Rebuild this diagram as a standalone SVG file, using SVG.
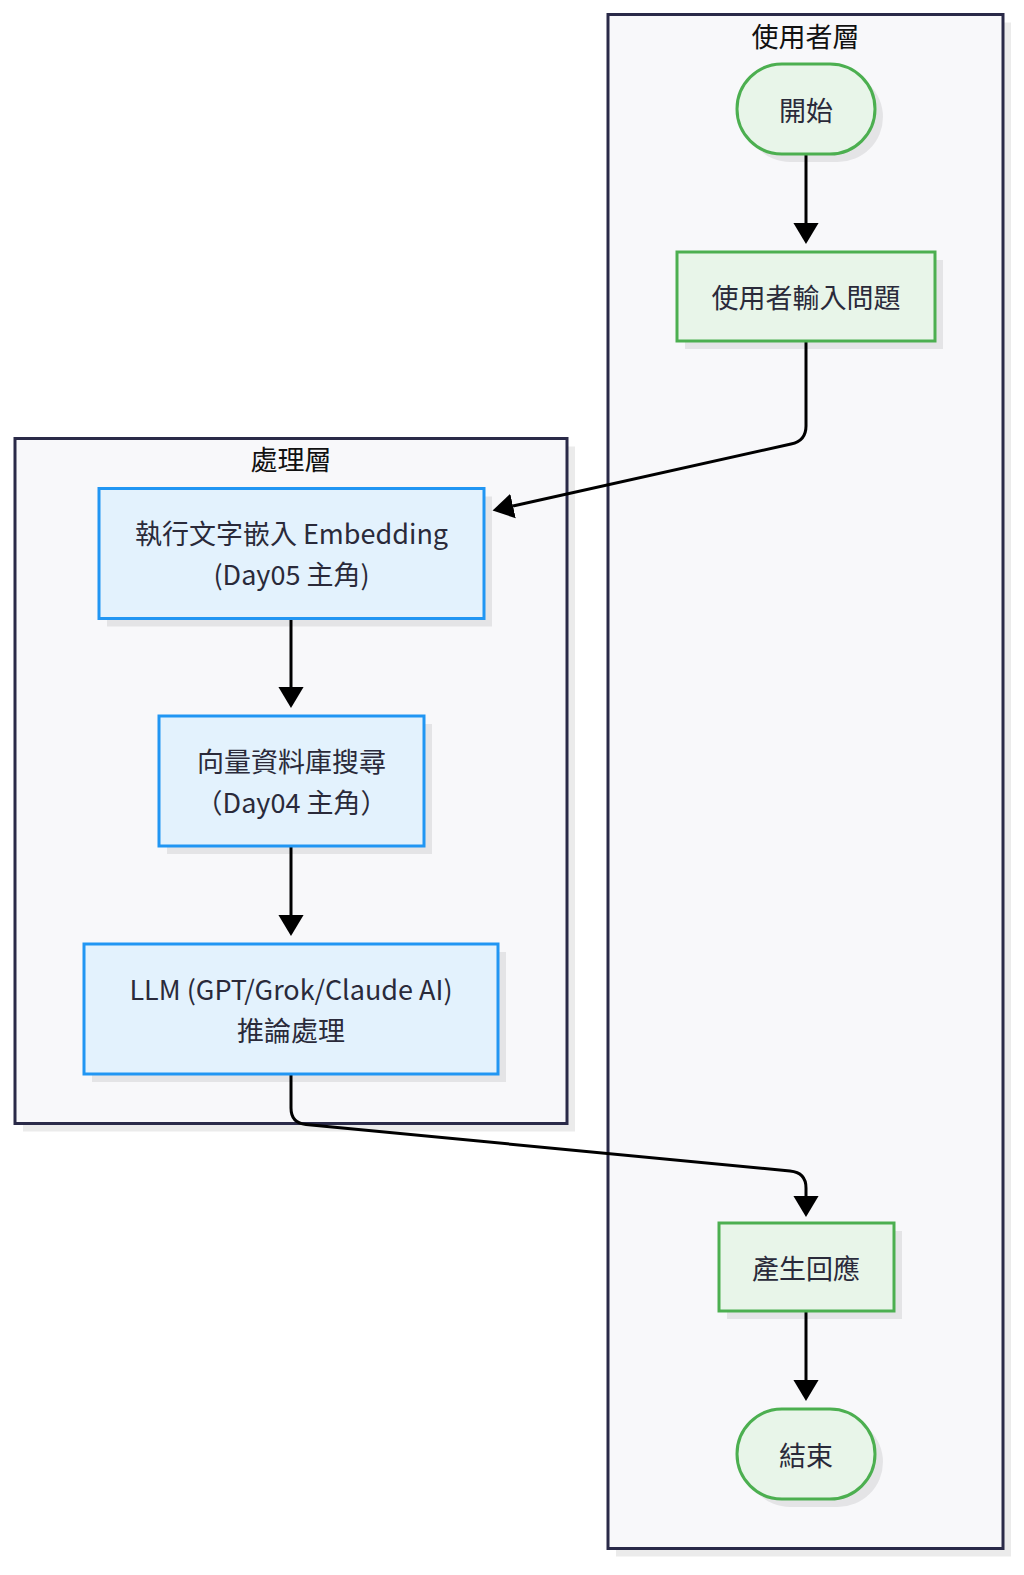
<svg xmlns="http://www.w3.org/2000/svg" width="1024" height="1575" viewBox="0 0 1024 1575">
<style>
  .cl { fill: #f8f8fa; stroke: #2a2a48; stroke-width: 3; }
  .sh { fill: #000; opacity: 0.08; }
  .g { fill: #e8f5e9; stroke: #4caf50; stroke-width: 3; }
  .b { fill: #e3f2fd; stroke: #2196f3; stroke-width: 3; }
  .t { font-family: "Noto Sans CJK TC", "Noto Sans", sans-serif; font-size: 27px; fill: #2a2a3a; text-anchor: middle; dominant-baseline: central; }
  .ct { font-family: "Noto Sans CJK TC", "Noto Sans", sans-serif; font-size: 27px; fill: #111; text-anchor: middle; dominant-baseline: central; }
  .e { fill: none; stroke: #000; stroke-width: 3; }
</style>
<defs>
  <marker id="arr" markerUnits="userSpaceOnUse" markerWidth="22" markerHeight="26" refX="0" refY="12" orient="auto" viewBox="0 0 21 24">
    <path d="M0,0 L20,12 L0,24 z" fill="#000"/>
  </marker>
</defs>
<rect width="1024" height="1575" fill="#ffffff"/>

<g id="cluster-user">
  <rect class="sh" x="616" y="22.5" width="395" height="1534"/>
  <rect class="cl" x="608" y="14.5" width="395" height="1534"/>
  <text class="ct" x="805.5" y="35">使用者層</text>
</g>
<g id="cluster-proc">
  <rect class="sh" x="23" y="446.5" width="552" height="685"/>
  <rect class="cl" x="15" y="438.5" width="552" height="685"/>
  <text class="ct" x="291" y="458">處理層</text>
</g>

<g id="connectors">
  <path class="e" d="M806,155 L806,223" marker-end="url(#arr)"/>
  <path class="e" d="M806,341 L806,426 Q806,441 791,444 L513,506" marker-end="url(#arr)"/>
  <path class="e" d="M291,618.5 L291,687" marker-end="url(#arr)"/>
  <path class="e" d="M291,846 L291,915" marker-end="url(#arr)"/>
  <path class="e" d="M291,1074 L291,1108 Q291,1123 306,1124.5 L790,1171 Q806,1172.5 806,1188 L806,1196" marker-end="url(#arr)"/>
  <path class="e" d="M806,1311 L806,1380" marker-end="url(#arr)"/>
</g>

<g id="node-start">
  <rect class="sh" x="745" y="72" width="138" height="90" rx="45"/>
  <rect class="g" x="737" y="64" width="138" height="90" rx="45"/>
  <text class="t" x="806" y="109">開始</text>
</g>
<g id="node-input">
  <rect class="sh" x="685" y="260" width="258" height="89"/>
  <rect class="g" x="677" y="252" width="258" height="89"/>
  <text class="t" x="806" y="296.5">使用者輸入問題</text>
</g>
<g id="node-embed">
  <rect class="sh" x="107" y="496.5" width="385" height="130"/>
  <rect class="b" x="99" y="488.5" width="385" height="130"/>
  <text class="t" x="291.5" y="532">執行文字嵌入 Embedding</text>
  <text class="t" x="291.5" y="573">(Day05 主角)</text>
</g>
<g id="node-vector">
  <rect class="sh" x="167" y="724" width="265" height="130"/>
  <rect class="b" x="159" y="716" width="265" height="130"/>
  <text class="t" x="291.5" y="760">向量資料庫搜尋</text>
  <text class="t" x="291.5" y="801">（Day04 主角）</text>
</g>
<g id="node-llm">
  <rect class="sh" x="92" y="952" width="414" height="130"/>
  <rect class="b" x="84" y="944" width="414" height="130"/>
  <text class="t" x="291" y="988">LLM (GPT/Grok/Claude AI)</text>
  <text class="t" x="291" y="1029">推論處理</text>
</g>
<g id="node-resp">
  <rect class="sh" x="727" y="1231" width="175" height="88"/>
  <rect class="g" x="719" y="1223" width="175" height="88"/>
  <text class="t" x="806" y="1267">產生回應</text>
</g>
<g id="node-end">
  <rect class="sh" x="745" y="1417" width="138" height="90" rx="45"/>
  <rect class="g" x="737" y="1409" width="138" height="90" rx="45"/>
  <text class="t" x="806" y="1454">結束</text>
</g>
</svg>
